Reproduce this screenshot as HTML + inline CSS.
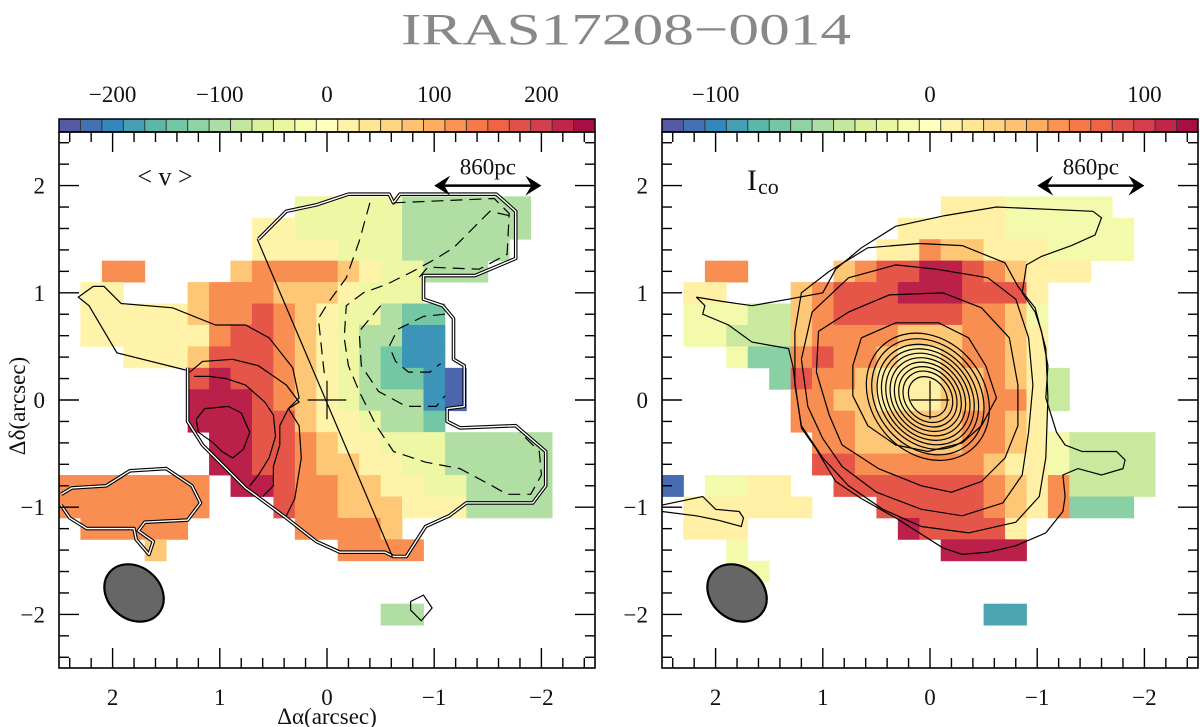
<!DOCTYPE html>
<html><head><meta charset="utf-8">
<style>
html,body{margin:0;padding:0;background:#fff;}
svg{display:block;font-family:"Liberation Serif",serif;}
</style></head>
<body>
<svg id="fig" width="1200" height="727" viewBox="0 0 1200 727" xmlns="http://www.w3.org/2000/svg">
<text x="626" y="44" font-size="44" fill="#888" text-anchor="middle" textLength="450" lengthAdjust="spacingAndGlyphs" font-weight="normal">IRAS17208−0014</text>
<g id="left"></g>
<g id="right"></g>
</svg>
<script>
// ---------- data ----------
const velocityLevels = [-230,-190,-140,-95,-35,20,75,125,175,225];
const intensityLevels = [-112.5,-87.5,-62.5,-37.5,-12.5,12.5,37.5,62.5,87.5,112.5];
const leftTicks = [-200,-100,0,100,200];
const rightTicks = [-100,0,100];
const axisTicks = [2,1,0,-1,-2];
const velocityRows = [
".........................",
".........................",
".........................",
"...........44444333333...",
".........5544444333333...",
".........555544433333....",
"..77....677776544333.....",
".55...67776665444........",
".55555677876544322.......",
".55555578876543311.......",
"...555688876543211.......",
"......8988765432210......",
"......9998765433310......",
"......999886554332.......",
".......9988765544433333..",
".......9988766554433333..",
"7777777.998776655443333..",
"7777777...8776665553333..",
".77777.....77776........",
"....6........7777........",
".........................",
".........................",
"...............33........",
".........................",
"........................."];
const intensityRows = [
".........................",
".........................",
".........................",
".............55544444....",
"...........55555444444...",
"..........557665554444...",
"..77....678899876555.....",
".55...678889998885.......",
".44433678888887764.......",
".44333677776667765.......",
"...422787765567765.......",
".....28776555667653......",
"......7766555667753......",
"......777666667765.......",
".......7766666776543333..",
".......8877777765543333..",
"0.4455..888888876573333..",
".555555...888887657222...",
".555.......988885........",
"...4.........9999........",
"...44....................",
".........................",
"...............11........",
".........................",
"........................."];
// contours in grid-cell units (0.2 arcsec per unit, origin at top-left corner)
const vOuter = [[9.3,5.0],[10.6,3.7],[12.0,3.4],[13.5,2.9],[15.4,2.9],[15.6,3.3],[15.9,2.9],[20.4,2.9],[21.3,3.7],[21.3,5.9],[19.4,6.7],[17.0,6.7],[17.0,7.8],[17.9,8.1],[18.4,8.7],[18.4,10.6],[18.9,10.9],[18.9,12.8],[18.1,12.9],[18.1,13.5],[18.7,13.8],[21.3,13.7],[22.7,14.9],[22.7,16.5],[22.1,17.3],[19.0,17.3],[18.2,17.9],[17.1,18.4],[16.2,19.8],[15.6,19.8],[15.2,19.6],[13.1,19.6],[12.0,19.1],[10.6,18.0],[8.7,16.6],[7.5,15.4],[6.7,14.6],[6.0,13.5],[6.0,11.0]];
const vBlobOuter = [[0.1,16.9],[0.6,16.6],[2.2,16.5],[3.3,15.8],[5.0,15.7],[6.2,16.5],[6.6,17.3],[6.0,18.1],[4.0,18.2],[3.7,18.6],[4.4,19.1],[4.2,19.7],[3.6,19.0],[3.5,18.5],[1.3,18.5],[0.5,18.0],[0.1,17.4]];
const vPos50 = [[5.9,11.1],[2.7,10.3],[1.4,8.1],[0.9,7.7],[1.6,7.2],[2.1,7.2],[2.9,8.0],[5.3,8.2],[7.3,9.0],[8.7,9.0],[9.8,9.6],[10.9,11.0],[11.2,12.4],[10.7,12.9],[11.2,13.7],[11.3,15.2],[11.0,17.1],[10.6,17.9]];
const vPos100 = [[6.1,11.2],[6.7,10.7],[8.1,10.6],[9.3,10.9],[10.6,11.8],[11.2,12.6],[10.7,12.9],[10.3,13.7],[10.3,14.6],[10.0,15.6],[10.0,16.5],[9.5,17.0]];
const vPos150 = [[6.3,11.4],[7.0,11.4],[7.8,11.5],[8.7,11.8],[9.6,12.6],[10.0,13.2],[10.1,14.2],[9.8,15.2],[9.3,16.0],[8.9,16.5]];
const vPos200 = [[6.4,13.4],[6.8,12.9],[7.9,12.8],[8.5,13.1],[8.9,14.0],[8.6,14.8],[8.1,15.2],[7.6,14.9],[7.2,14.5],[6.5,14.0],[6.4,13.4]];
const vZero = [[9.25,5.0],[15.55,19.8]];
const vNeg50 = [[14.5,3.3],[14.0,5.1],[13.4,6.8],[12.6,7.9],[12.1,8.7],[12.3,10.6],[12.4,11.5]];
const vNeg100 = [[21.0,3.9],[20.1,3.7],[19.3,4.5],[18.4,5.4],[17.6,5.9],[16.5,6.5],[15.3,7.1],[14.2,7.5],[13.4,8.1],[13.3,9.6],[13.5,10.9],[14.0,12.1],[14.8,13.7],[15.6,14.9],[17.1,15.4],[18.7,15.7],[20.2,16.5],[20.9,16.9],[22.0,16.9],[22.5,16.0],[22.4,14.9],[21.5,14.0]];
const vNeg100b = [[15.6,3.3],[20.3,3.1],[21.0,3.8],[20.9,5.7],[19.6,6.4],[17.2,6.3],[16.7,6.9]];
const vNeg150 = [[15.0,8.1],[14.0,9.3],[14.1,10.9],[14.9,12.1],[16.2,12.8],[17.6,12.8],[18.0,12.3]];
const vNeg200 = [[18.0,8.5],[17.0,8.6],[15.8,9.2],[15.4,10.0],[15.7,10.7],[16.3,11.2],[17.3,11.2],[17.8,10.8]];
const vSmall = [[16.4,21.9],[17.0,21.6],[17.4,22.2],[16.9,22.8],[16.4,22.3],[16.4,21.9]];
const iOuter = [[1.6,7.7],[2.0,8.1],[1.9,8.5],[3.1,9.0],[4.2,9.8],[5.9,10.1],[6.1,10.9],[6.3,12.4],[6.5,13.8],[7.2,14.8],[8.1,16.3],[9.3,17.1],[10.9,18.0],[13.1,19.4],[14.0,19.7],[15.2,19.6],[16.5,19.3],[17.9,18.7],[18.7,17.7],[18.8,17.0],[18.7,16.0],[19.4,15.7],[20.5,16.0],[21.5,15.7],[21.6,15.3],[21.2,14.9],[19.6,14.9],[18.8,14.6],[18.4,14.0],[17.9,12.4],[18.0,10.9],[17.7,9.3],[17.4,8.4],[16.8,7.5],[17.0,6.2],[17.7,5.8],[19.1,5.3],[20.2,4.8],[20.5,4.0],[20.1,3.7],[15.6,3.5],[13.2,3.9],[10.9,4.4],[9.3,5.4],[8.1,6.4],[7.5,7.5],[5.9,7.8],[4.2,8.1],[2.8,7.9],[1.6,7.7]];
const iLevel2 = [[7.8,6.5],[9.6,5.4],[12.0,5.2],[14.0,5.3],[16.0,6.1],[16.6,7.2],[17.4,8.2],[17.9,10.1],[18.0,12.4],[17.9,15.2],[17.6,17.0],[16.5,18.2],[14.3,18.7],[12.1,18.4],[10.3,17.6],[8.7,16.5],[7.5,15.2],[6.5,13.7],[6.2,11.8],[6.2,9.3],[6.5,7.5],[7.8,6.5]];
const iLevel3 = [[8.7,6.8],[10.9,6.2],[12.8,6.4],[15.2,6.8],[16.5,7.8],[17.1,9.6],[17.3,11.8],[17.1,14.0],[16.8,16.0],[15.9,17.3],[14.0,17.9],[12.1,17.6],[10.0,16.8],[8.4,15.6],[7.5,14.3],[6.8,12.8],[6.5,10.6],[7.0,8.4],[8.7,6.8]];
const iLevel4 = [[8.7,8.4],[10.6,7.6],[13.1,7.5],[14.9,8.2],[16.2,9.6],[16.6,11.8],[16.6,13.7],[16.0,15.2],[14.9,16.3],[13.5,16.8],[12.1,16.5],[10.1,15.7],[8.4,14.6],[7.8,13.2],[7.2,11.2],[7.3,9.3],[8.7,8.4]];
const iLevel5 = [[9.3,9.6],[10.9,8.9],[12.9,8.9],[14.3,9.6],[15.1,10.9],[15.6,12.4],[14.9,13.7],[14.0,14.5],[12.4,14.9],[10.9,14.6],[9.6,13.7],[8.9,12.3],[8.9,10.9],[9.3,9.6]];
const iArm = [[0.0,17.4],[1.9,17.0],[2.5,17.6],[3.6,17.7],[3.8,18.0],[3.7,18.4],[2.6,18.1],[1.6,17.9],[0.0,17.7]];
const iCoreRadii = [0.18,0.23,0.27,0.31,0.35,0.39,0.43,0.47,0.52,0.57];

// ---------- helpers ----------
const NS = "http://www.w3.org/2000/svg";
const stops = ["#5e4fa2","#3288bd","#66c2a5","#abdda4","#e6f598","#ffffbf","#fee08b","#fdae61","#f46d43","#d53e4f","#9e0142"];
function hex(h){return [1,3,5].map(i=>parseInt(h.substr(i,2),16));}
function cmap(t){t=Math.max(0,Math.min(1,t));const p=t*10;const i=Math.min(9,Math.floor(p));const f=p-i;const a=hex(stops[i]),b=hex(stops[i+1]);return "rgb("+a.map((v,k)=>Math.round(v+(b[k]-v)*f)).join(",")+")";}
function mk(tag,attrs,parent){const e=document.createElementNS(NS,tag);for(const k in attrs)e.setAttribute(k,attrs[k]);parent.appendChild(e);return e;}

function panel(g, L, rows, levels, vmin, vmax, contours){
  const R=L+536, T=132, B=668, W=536, H=536;
  const xs=a=>L+(2.5-a)/5*W;
  const ys=a=>T+(2.5-a)/5*H;
  const cx=u=>xs(2.5-0.2*u), cy=u=>ys(2.5-0.2*u);
  const vs=v=>L+(v-vmin)/(vmax-vmin)*W;
  const hm=mk("g",{},g);
  
  
  rows.forEach((row,r)=>{
    for(let c=0;c<25;c++){
      const ch=row[c];
      if(!ch||ch==='.')continue;
      const v=levels[parseInt(ch,10)];
      const x0=cx(c), x1=cx(c+1), y0=cy(r), y1=cy(r+1);
      const rc=mk("rect",{x:x0.toFixed(2),y:y0.toFixed(2),width:(x1-x0+0.4).toFixed(2),height:(y1-y0+0.4).toFixed(2),fill:cmap((v-vmin)/(vmax-vmin))},hm);
      
      
    }
  });
  contours.forEach(cn=>{
    const d=cn.pts.map((p,i)=>(i?"L":"M")+cx(p[0]).toFixed(1)+" "+cy(p[1]).toFixed(1)).join(" ");
    if(cn.double){
      mk("path",{d:d,fill:"none",stroke:"#000","stroke-width":3.6,"stroke-linejoin":"round"},g);
      const p2=mk("path",{d:d,fill:"none",stroke:"#fff","stroke-width":1.4,"stroke-linejoin":"round"},g);
      
      
    } else {
      const p=mk("path",{d:d,fill:"none",stroke:"#000","stroke-width":1.2,"stroke-dasharray":cn.dash||"none"},g);
      
      
    }
  });
  return {xs,ys,cx,cy,vs,L,R,T,B,W,H};
}

function frame(g, ax, vmin, vmax, cbTicks, cbStep){
  const {xs,ys,vs,L,R,T,B}=ax;
  const cb=mk("g",{},g);
  
  
  for(let v=vmin;v<vmax-1e-6;v+=cbStep){
    mk("rect",{x:vs(v).toFixed(2),y:119,width:(vs(v+cbStep)-vs(v)+0.5).toFixed(2),height:13,fill:cmap((v+cbStep/2-vmin)/(vmax-vmin))},cb);
    if(v>vmin) mk("line",{x1:vs(v),x2:vs(v),y1:119,y2:132,stroke:"#333","stroke-width":1},cb);
  }
  mk("rect",{x:L,y:119,width:R-L,height:13,fill:"none",stroke:"#000","stroke-width":1.5},cb);
  cbTicks.forEach(t=>{
    const tx=mk("text",{x:vs(t),y:102,"font-size":23,"text-anchor":"middle",fill:"#111"},cb);
    tx.textContent=(t<0?"−"+(-t):""+t);
    
    
  });
  const fr=mk("rect",{x:L,y:T,width:R-L,height:B-T,fill:"none",stroke:"#000","stroke-width":1.6},g);
  
  
  for(let k=-12;k<=12;k++){
    const a=k/5, major=(k%5===0), len=major?20:10;
    const X=xs(a), Y=ys(a);
    mk("line",{x1:X,x2:X,y1:T,y2:T+len,stroke:"#000","stroke-width":1.4},g);
    mk("line",{x1:X,x2:X,y1:B,y2:B-len,stroke:"#000","stroke-width":1.4},g);
    mk("line",{x1:L,x2:L+len,y1:Y,y2:Y,stroke:"#000","stroke-width":1.4},g);
    mk("line",{x1:R,x2:R-len,y1:Y,y2:Y,stroke:"#000","stroke-width":1.4},g);
  }
  axisTicks.forEach(t=>{
    const s=(t<0?"−"+(-t):""+t);
    const tx=mk("text",{x:xs(t),y:705,"font-size":23,"text-anchor":"middle",fill:"#111"},g);
    tx.textContent=s;
    
    
    const ty=mk("text",{x:L-14,y:ys(t)+8,"font-size":23,"text-anchor":"end",fill:"#111"},g);
    ty.textContent=s;
    
    
  });
  const cr=mk("path",{d:`M${xs(0.18)} ${ys(0)} H${xs(-0.18)} M${xs(0)} ${ys(0.18)} V${ys(-0.18)}`,stroke:"#000","stroke-width":1.2},g);
  
  
  const sb=mk("g",{},g);
  
  
  const x1=xs(-1), x2=xs(-2), y=ys(2);
  mk("line",{x1:x1+6,x2:x2-6,y1:y,y2:y,stroke:"#000","stroke-width":2.5},sb);
  mk("path",{d:`M${x1} ${y} L${x1+16} ${y-10} L${x1+10} ${y} L${x1+16} ${y+10} Z`,fill:"#000"},sb);
  mk("path",{d:`M${x2} ${y} L${x2-16} ${y-10} L${x2-10} ${y} L${x2-16} ${y+10} Z`,fill:"#000"},sb);
  const st=mk("text",{x:(x1+x2)/2,y:y-11,"font-size":23,"text-anchor":"middle",fill:"#111"},sb);
  st.textContent="860pc";
  const bm=mk("ellipse",{cx:xs(1.8),cy:ys(-1.80),rx:32,ry:26,transform:`rotate(40 ${xs(1.8)} ${ys(-1.80)})`,fill:"#666",stroke:"#000","stroke-width":2.2},g);
  
  
}

// left panel
const gl=document.getElementById('left');
const dsh="12 7";
const axL=panel(gl,59,velocityRows,velocityLevels,-250,250,[
 {pts:vOuter,double:true},{pts:vBlobOuter,double:true},{pts:vSmall},
 {pts:vPos50},{pts:vPos100},{pts:vPos150},{pts:vPos200},{pts:vZero},
 {pts:vNeg50,dash:dsh},{pts:vNeg100,dash:dsh},{pts:vNeg100b,dash:dsh},{pts:vNeg150,dash:dsh},{pts:vNeg200,dash:dsh}]);
frame(gl,axL,-250,250,leftTicks,20);
const lv=mk("text",{x:165,y:185,"font-size":26,"text-anchor":"middle",fill:"#111"},gl);
lv.textContent="< v >";


const xt=mk("text",{x:axL.xs(0),y:724,"font-size":23,"text-anchor":"middle",fill:"#111"},gl);
xt.textContent="Δα(arcsec)";


const yt=mk("text",{x:0,y:0,"font-size":23,"text-anchor":"middle",fill:"#111",transform:"translate(25 406) rotate(-90)"},gl);
yt.textContent="Δδ(arcsec)";



// right panel
const gr=document.getElementById('right');
const axR=panel(gr,662,intensityRows,intensityLevels,-125,125,[
 {pts:iOuter},{pts:iLevel2},{pts:iLevel3},{pts:iLevel4},{pts:iLevel5},{pts:iArm}]);
iCoreRadii.forEach(r=>{
  const cxp=axR.xs(0.02), cyp=axR.ys(0.03);
  const e=mk("ellipse",{cx:cxp,cy:cyp,rx:(r*107.2*1.12).toFixed(1),ry:(r*107.2*0.92).toFixed(1),transform:`rotate(50 ${cxp} ${cyp})`,fill:"none",stroke:"#000","stroke-width":1.2},gr);
  
  
});
frame(gr,axR,-125,125,rightTicks,10);
const li=mk("text",{x:747,y:190,"font-size":30,fill:"#111"},gr);
li.textContent="I";


const ls=mk("text",{x:758,y:194,"font-size":22,fill:"#111"},gr);
ls.textContent="co";


</script>
</body></html>
